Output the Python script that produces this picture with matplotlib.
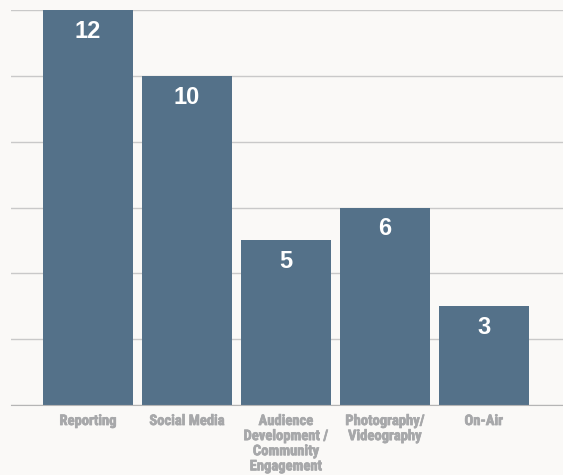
import matplotlib.pyplot as plt
import matplotlib.patheffects as pe

categories = ['Reporting', 'Social Media', 'Audience\nDevelopment /\nCommunity\nEngagement',
              'Photography/\nVideography', 'On-Air']
values = [12, 10, 5, 6, 3]

bg = '#faf9f7'
bar_color = '#547189'
label_color = '#a7a8aa'
label_font = ['Roboto Condensed', 'Liberation Sans Narrow', 'Arial Narrow', 'Liberation Sans']
value_font = ['Liberation Sans', 'DejaVu Sans']

fig = plt.figure(figsize=(5.63, 4.75), dpi=100, facecolor=bg)
ax = fig.add_axes([11 / 563, 70 / 475, 552 / 563, 395 / 475], facecolor=bg)

x = range(len(values))
ax.bar(x, values, width=0.91, color=bar_color, zorder=3)
for i, v in enumerate(values):
    ax.text(i, v - 0.65, str(v), ha='center', va='center', color='white',
            fontsize=17, fontweight='bold', family=value_font, zorder=4)

ax.set_xlim(-0.78, 4.8)
ax.set_ylim(0, 12)
ax.set_yticks(range(0, 13, 2))
ax.yaxis.grid(True, color='#c9c9c9', linewidth=1, zorder=0)
ax.tick_params(axis='y', left=False, labelleft=False)
ax.tick_params(axis='x', bottom=False, pad=3)
ax.set_xticks(list(x))
ax.set_xticklabels(categories, color=label_color, fontsize=10.5, fontweight='bold',
                   family=label_font, fontstretch='condensed', linespacing=1.1, va='top')
for t in ax.get_xticklabels():
    t.set_path_effects([pe.withStroke(linewidth=0.5, foreground=label_color)])
for s in ['top', 'right', 'left']:
    ax.spines[s].set_visible(False)
ax.spines['bottom'].set_color('#b5b5b5')
ax.spines['bottom'].set_zorder(5)

fig.savefig('out.png', dpi=100, facecolor=bg)
